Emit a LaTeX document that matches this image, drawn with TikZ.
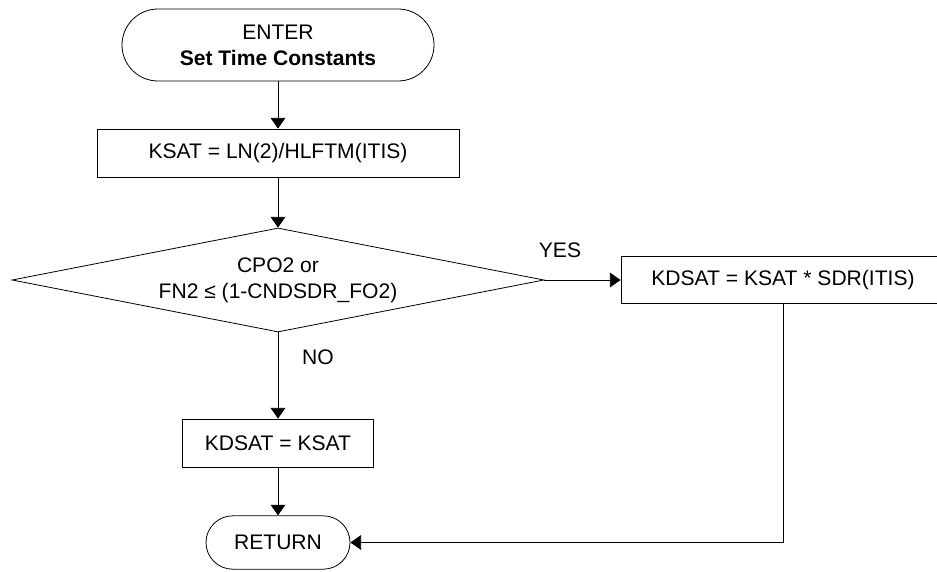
\documentclass[tikz,border=0pt]{standalone}
\usepackage{fontspec}
\setmainfont{Liberation Sans}
\usetikzlibrary{positioning, arrows.meta, shapes.geometric}

\tikzset{
  flowbox/.style={draw, line width=0.6pt, inner sep=2pt, align=center},
  terminal/.style={flowbox, rounded corners=#1},
  decision/.style={draw, line width=0.6pt, diamond, aspect=5, inner sep=0pt,
                   align=center},
  flowline/.style={draw, line width=0.6pt, -{Triangle[length=8pt,width=11pt]}}
}

\begin{document}
\begin{tikzpicture}[x=0.75pt, y=-0.75pt, font=\fontsize{15.8}{19.5}\selectfont]
  \useasboundingbox (0,0) rectangle (937,571);
  % start / end
  \node[terminal=27pt, minimum width=234pt, minimum height=54pt] (enter)
    at (278,45) {ENTER\\\textbf{Set Time Constants}};
  \node[terminal=20pt, minimum width=108pt, minimum height=40pt] (ret)
    at (278,542.5) {RETURN};
  % process boxes
  \node[flowbox, minimum width=271.5pt, minimum height=36pt] (ksat)
    at (278,153) {KSAT = LN(2)/HLFTM(ITIS)};
  \node[flowbox, minimum width=243pt, minimum height=35.25pt] (kdsatsdr)
    at (783,280) {KDSAT = KSAT * SDR(ITIS)};
  \node[flowbox, minimum width=143.25pt, minimum height=36pt] (kdsat)
    at (278,443) {KDSAT = KSAT};
  % test
  \node[decision, minimum width=399pt, minimum height=78pt] (cond)
    at (278,280) {CPO2 or\\FN2 ≤ (1-CNDSDR\_FO2)};
  \node (yes) at (560,250) {YES};
  \node (no) at (318,357) {NO};
  % connectors
  \path[flowline] (enter) -- (ksat);
  \path[flowline] (ksat) -- (cond);
  \path[flowline] (cond.east) -- (kdsatsdr.west);
  \path[flowline] (cond.south) -- (kdsat.north);
  \path[flowline] (kdsat) -- (ret);
  \path[flowline] (kdsatsdr.south) |- (ret.east);
\end{tikzpicture}
\end{document}
